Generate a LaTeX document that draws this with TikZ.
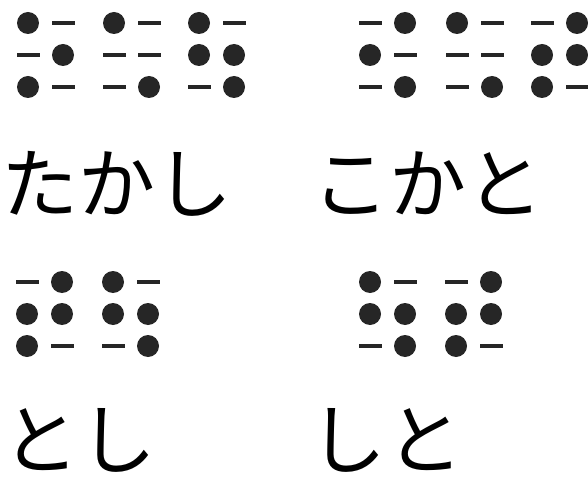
\documentclass[tikz,border=0pt]{standalone}
\usepackage{fontspec}
\newfontfamily\jpfont{Noto Sans CJK JP}
\usetikzlibrary{positioning}
\tikzset{
  x=1pt, y=-1pt,
  bdot/.style={circle, fill=black!85, minimum size=22pt, inner sep=0pt},
  bdash/.style={rectangle, fill=black!85, minimum width=23pt, minimum height=4pt, inner sep=0pt},
  kana/.style={font=\jpfont\fontsize{77}{77}\selectfont, inner sep=0pt, anchor=base west}
}
% one braille cell: name, x, y, marks row by row (left, right)
\newcommand{\braillecell}[4]{%
  \foreach \mk [count=\i from 0] in {#4} {
    \pgfmathtruncatemacro\brrow{int(\i/2)}
    \pgfmathtruncatemacro\brcol{mod(\i,2)}
    \node[\mk] (#1-\i) at ({#2+\brcol*35},{#3+\brrow*32}) {};
  }
}
\begin{document}
\begin{tikzpicture}
  \useasboundingbox (0,0) rectangle (588,478);

  % top left: takashi
  \braillecell{ta}{28}{23}{bdot,bdash,bdash,bdot,bdot,bdash}
  \braillecell{ka}{114}{23}{bdot,bdash,bdash,bdash,bdash,bdot}
  \braillecell{shi}{199}{23}{bdot,bdash,bdot,bdot,bdash,bdot}
  \node[kana] (takashi) at (1,212) {たかし};

  % top right: kokato
  \braillecell{ko}{370}{23}{bdash,bdot,bdot,bdash,bdash,bdot}
  \braillecell{kb}{457}{23}{bdot,bdash,bdash,bdash,bdash,bdot}
  \braillecell{to}{542}{23}{bdash,bdot,bdot,bdot,bdot,bdash}
  \node[kana] (kokato) at (312,212) {こかと};

  % bottom left: toshi
  \braillecell{tb}{27}{282}{bdash,bdot,bdot,bdot,bdot,bdash}
  \braillecell{sb}{113}{282}{bdot,bdash,bdot,bdot,bdash,bdot}
  \node[kana] (toshi) at (2,468) {とし};

  % bottom right: shito
  \braillecell{sc}{370}{282}{bdot,bdash,bdot,bdot,bdash,bdot}
  \braillecell{tc}{456}{282}{bdash,bdot,bdot,bdot,bdot,bdash}
  \node[kana] (shito) at (309,468) {しと};
\end{tikzpicture}
\end{document}
